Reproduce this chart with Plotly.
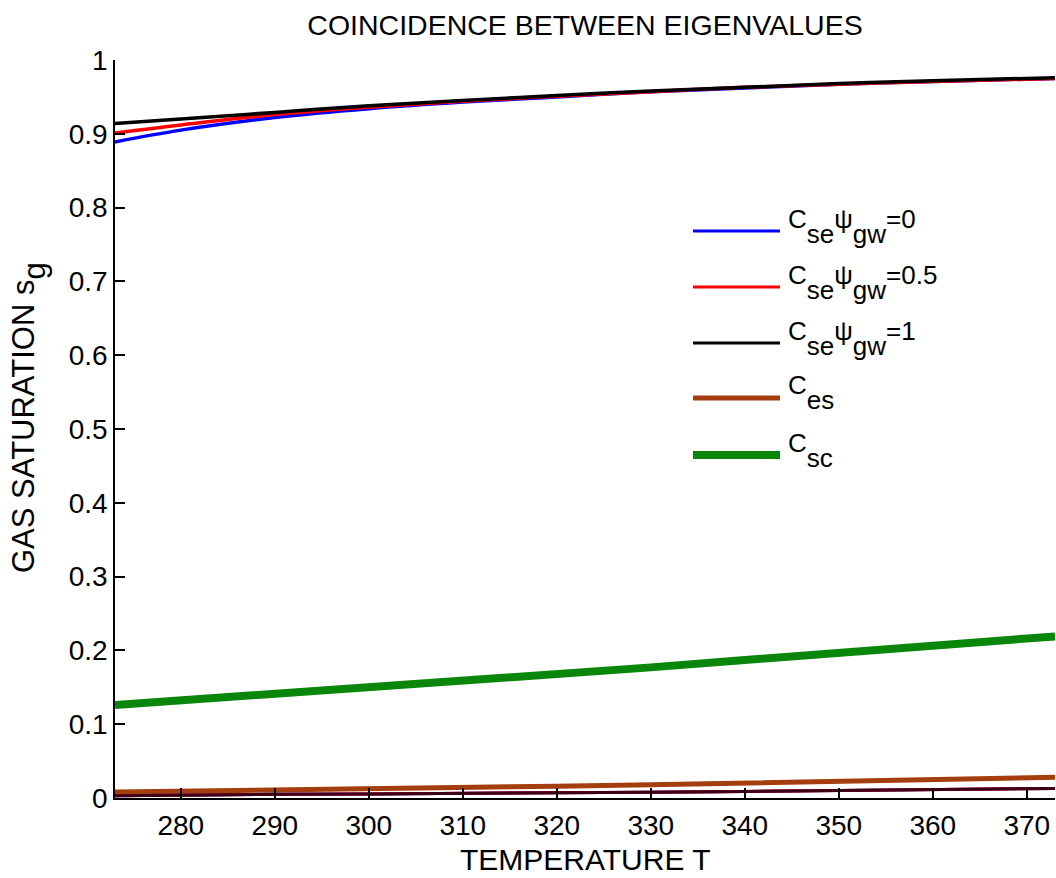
import plotly.graph_objects as go

# Temperature grid (K)
temperature = [273, 280, 290, 300, 310, 320, 330, 340, 350, 360, 373]

# Upper branch of gas saturation for three values of C_se*psi_gw
sg_upper_0 = [0.889, 0.905, 0.922, 0.934, 0.943, 0.950, 0.957, 0.962, 0.967, 0.971, 0.975]
sg_upper_05 = [0.901, 0.912, 0.926, 0.936, 0.944, 0.951, 0.957, 0.963, 0.967, 0.971, 0.975]
sg_upper_1 = [0.914, 0.920, 0.929, 0.938, 0.945, 0.952, 0.958, 0.963, 0.968, 0.972, 0.976]

# Lower branch (nearly identical for the three cases)
sg_lower_0 = [0.003, 0.004, 0.005, 0.0055, 0.006, 0.007, 0.0078, 0.0088, 0.0098, 0.011, 0.013]
sg_lower_05 = [0.003, 0.004, 0.005, 0.0055, 0.006, 0.007, 0.0078, 0.0088, 0.0098, 0.011, 0.013]
sg_lower_1 = [0.003, 0.004, 0.005, 0.0055, 0.006, 0.007, 0.0078, 0.0088, 0.0098, 0.011, 0.013]

# Boundary curves
sg_es = [0.008, 0.009, 0.0105, 0.012, 0.014, 0.016, 0.018, 0.020, 0.0225, 0.025, 0.028]
sg_sc = [0.126, 0.132, 0.140, 0.149, 0.158, 0.167, 0.177, 0.187, 0.197, 0.207, 0.219]

x_ticks = [280, 290, 300, 310, 320, 330, 340, 350, 360, 370]
y_ticks = [0, 0.1, 0.2, 0.3, 0.4, 0.5, 0.6, 0.7, 0.8, 0.9, 1]
y_tick_text = ["0", "0.1", "0.2", "0.3", "0.4", "0.5", "0.6", "0.7", "0.8", "0.9", "1"]


def sub(s, shift=15):
    # full-size subscript, only lowered below the baseline
    return f"<span style='baseline-shift:-{shift}px'>{s}</span>"


legend_labels = [
    "C" + sub("se") + "ψ" + sub("gw") + "=0",
    "C" + sub("se") + "ψ" + sub("gw") + "=0.5",
    "C" + sub("se") + "ψ" + sub("gw") + "=1",
    "C" + sub("es"),
    "C" + sub("sc"),
]

BLUE = "rgb(0,0,255)"
RED = "rgb(255,0,0)"
BLACK = "rgb(0,0,0)"
BROWN = "rgb(165,62,14)"
GREEN = "rgb(10,135,10)"

legend_colors = [BLUE, RED, BLACK, BROWN, GREEN]
legend_widths = [3, 3, 3, 5, 8]

FONT = "Liberation Sans, Arial, sans-serif"
TICK_SIZE = 28
LABEL_SIZE = 30
LEG_SIZE = 26

fig = go.Figure()

fig.add_trace(go.Scatter(x=temperature, y=sg_sc, mode="lines",
                         line=dict(color=GREEN, width=8), showlegend=False))
fig.add_trace(go.Scatter(x=temperature, y=sg_es, mode="lines",
                         line=dict(color=BROWN, width=5), showlegend=False))

for ys, c in [(sg_lower_0, BLUE), (sg_lower_05, RED), (sg_lower_1, "rgb(60,0,20)")]:
    fig.add_trace(go.Scatter(x=temperature, y=ys, mode="lines",
                             line=dict(color=c, width=3), showlegend=False))

for ys, c in [(sg_upper_0, BLUE), (sg_upper_05, RED), (sg_upper_1, BLACK)]:
    fig.add_trace(go.Scatter(x=temperature, y=ys, mode="lines",
                             line=dict(color=c, width=3.5), showlegend=False,
                             line_shape="spline"))

# Plot area in pixels
L, R, T, B = 115, 1055, 60, 798
W, H = R - L, B - T

# Hand-built legend in the upper right of the plotting area
line_x0, line_x1, text_x = 693, 780, 786
row_y = [231, 287, 343, 398, 455]
shapes = []
annotations = []
for lab, col, lw, py in zip(legend_labels, legend_colors, legend_widths, row_y):
    shapes.append(dict(type="line", xref="paper", yref="paper",
                       x0=(line_x0 - L) / W, x1=(line_x1 - L) / W,
                       y0=(B - py) / H, y1=(B - py) / H,
                       line=dict(color=col, width=lw)))
    annotations.append(dict(text=lab, xref="paper", yref="paper",
                            x=(text_x - L) / W, y=(B - py + 5) / H,
                            xanchor="left", yanchor="middle", showarrow=False,
                            font=dict(family=FONT, size=LEG_SIZE, color="black")))

# Axis titles
annotations.append(dict(text="TEMPERATURE T", xref="paper", yref="paper",
                        x=0.5, y=(B - 859) / H, xanchor="center", yanchor="middle",
                        showarrow=False, font=dict(family=FONT, size=LABEL_SIZE)))
annotations.append(dict(text="GAS SATURATION s" + sub("g", 11), xref="paper",
                        yref="paper", x=(29 - L) / W, y=(B - 418) / H,
                        xanchor="center", yanchor="middle", textangle=-90,
                        showarrow=False, font=dict(family=FONT, size=LABEL_SIZE + 1)))

fig.update_layout(
    width=1056, height=878,
    margin=dict(l=L, r=1056 - R, t=T, b=878 - B),
    paper_bgcolor="white", plot_bgcolor="white",
    font=dict(family=FONT, size=TICK_SIZE, color="black"),
    title=dict(text="COINCIDENCE BETWEEN EIGENVALUES", x=(L + R) / 2 / 1056,
               xanchor="center", y=1 - 25 / 878, yanchor="middle",
               font=dict(family=FONT, size=28.5, color="black")),
    shapes=shapes,
    annotations=annotations,
    showlegend=False,
)

fig.update_xaxes(
    range=[273, 373], tickvals=x_ticks, ticks="inside", ticklen=10,
    tickwidth=1.5, tickcolor="black", showline=True, linecolor="black",
    linewidth=1.5, showgrid=False, zeroline=False, mirror=False,
    tickfont=dict(family=FONT, size=TICK_SIZE), automargin=False,
    ticklabelstandoff=2,
)
fig.update_yaxes(
    range=[0, 1], tickvals=y_ticks, ticktext=y_tick_text, ticks="inside",
    ticklen=10, tickwidth=1.5, tickcolor="black", showline=True,
    linecolor="black", linewidth=1.5, showgrid=False, zeroline=False,
    tickfont=dict(family=FONT, size=TICK_SIZE), automargin=False,
)

fig.write_html("out.html")
